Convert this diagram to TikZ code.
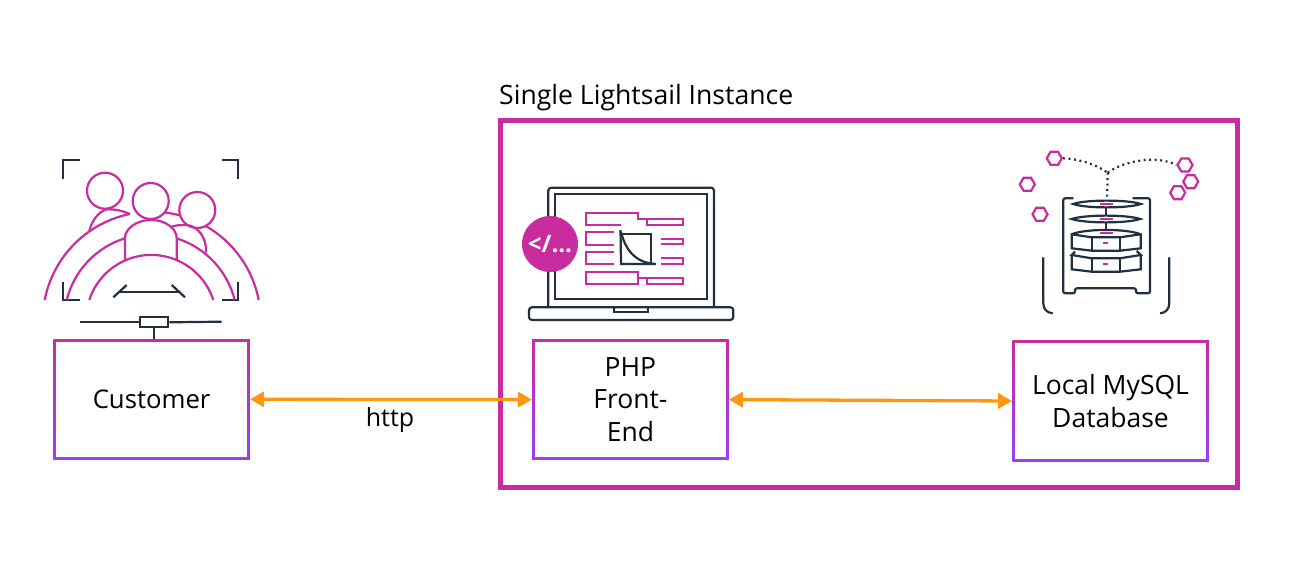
\documentclass[tikz,border=0pt]{standalone}
\usepackage{fontspec}
\setmainfont{Open Sans}
\usetikzlibrary{arrows.meta, shapes.geometric}
\definecolor{lsPink}{HTML}{C92C9E}
\definecolor{lsPurple}{HTML}{9B3FF5}
\definecolor{lsDark}{HTML}{232F3E}
\definecolor{lsOrange}{HTML}{FF9610}

\begin{document}
\begin{tikzpicture}
    [
        x=1pt, y=-1pt,
        gradbox/.style = {minimum width=196.5pt, minimum height=120.5pt, inner sep=0pt, align=center, font=\fontsize{26.5}{32.5}\selectfont,
            path picture={
                \shade[top color=lsPink, bottom color=lsPurple] (path picture bounding box.south west) rectangle (path picture bounding box.north east);
                \fill[white] ([xshift=2.7pt,yshift=-2.7pt]path picture bounding box.north west) rectangle ([xshift=-2.7pt,yshift=2.7pt]path picture bounding box.south east);
            }},
        twoway/.style = {draw=lsOrange, line width=3.3pt, {Triangle[length=14pt,width=15pt]}-{Triangle[length=14pt,width=15pt]}},
        pinkline/.style = {draw=lsPink, line width=2.2pt},
        darkline/.style = {draw=lsDark, line width=2.2pt},
        hexa/.style = {draw=lsPink, line width=2.2pt, shape=regular polygon, regular polygon sides=6, minimum size=15pt, inner sep=0pt},
        dotline/.style = {draw=lsDark, line width=2.2pt, dash pattern=on 2pt off 3.5pt},
    ]

    \useasboundingbox (0,0) rectangle (1292,569);

    % instance frame
    \node[draw=lsPink, line width=5pt, minimum width=737pt, minimum height=367pt, inner sep=0pt] (instance) at (869,304) {};
    \node[anchor=base west, inner sep=0pt, font=\fontsize{26.6}{30}\selectfont] (instancelabel) at (499,105) {Single Lightsail Instance};

    \node[gradbox, font=\fontsize{25.7}{32.5}\selectfont] (customer) at (151.6,399.3) {Customer};
    \node[gradbox] (php) at (630.4,399.6) {PHP\\Front-\\End};
    \node[gradbox] (mysql) at (1110.5,401) {Local MySQL\\Database};

    \draw[twoway] (customer.east) -- (php.west);
    \draw[twoway] (php.east) -- (mysql.west);
    \node[font=\fontsize{25}{30}\selectfont, inner sep=0pt] (httplabel) at (390,420) {http};

    % customer icon
    \draw[darkline] (63.3,179) -- (63.3,160) -- (80,160);
    \draw[darkline] (221.7,160) -- (238.3,160) -- (238.3,179);
    \draw[darkline] (63.3,281.7) -- (63.3,300) -- (80,300);
    \draw[darkline] (221.7,300) -- (238.3,300) -- (238.3,281.7);
    \draw[pinkline] (105,190.7) circle (18);
    \draw[pinkline] (150.7,201) circle (18);
    \draw[pinkline] (197.3,210) circle (18);
    \draw[pinkline] (44.7,300) arc[start angle=169, end angle=101.5, radius=109pt];
    \draw[pinkline] (165,212.5) arc[start angle=83, end angle=75, radius=109pt];
    \draw[pinkline] (205.7,226) arc[start angle=60.3, end angle=11, radius=109pt];
    \draw[pinkline] (66.7,300) arc[start angle=166, end angle=107.3, radius=86.6pt];
    \draw[pinkline] (176.4,238.3) arc[start angle=72.7, end angle=14, radius=86.6pt];
    \draw[pinkline] (89.3,300) arc[start angle=162, end angle=18, radius=65.2pt];
    \draw[pinkline] (125,260) -- (125,238) .. controls (125,229) and (136,220) .. (151,220) .. controls (166,220) and (176.7,229) .. (176.7,238) -- (176.7,260);
    \draw[pinkline] (89.3,230.7) .. controls (93,216) and (103,209.3) .. (108.3,209.3) .. controls (116,209.3) and (123,211) .. (130,214);
    \draw[pinkline] (170,227.3) .. controls (176,225) and (181,225) .. (186.7,225) .. controls (198,226) and (207,238) .. (206,252.7);
    \draw[darkline] (113.3,297.3) -- (126.7,285);
    \draw[darkline] (120,291.7) -- (178.3,291.7);
    \draw[darkline] (171.7,285) -- (185,297.3);
    \node[draw=lsDark, line width=2.2pt, minimum width=28pt, minimum height=10pt, inner sep=0pt] (desk) at (154.3,322.3) {};
    \coordinate (deskleft) at (80,322.3);
    \coordinate (deskright) at (221.7,321.7);
    \draw[darkline] (deskleft) -- (desk.west);
    \draw[darkline] (desk.east) -- (deskright);
    \draw[darkline] (desk.south) -- (desk.south |- customer.north);

    % laptop icon
    \draw[darkline, rounded corners=3pt] (548.3,306.7) -- (548.3,187.7) -- (714,187.7) -- (714,306.7);
    \draw[darkline] (555,194) rectangle (707.3,299.3);
    \draw[darkline, rounded corners=3pt] (529,307.3) rectangle (733.3,320);
    \draw[darkline] (614.3,307.3) -- (614.3,311.7) -- (647.7,311.7) -- (647.7,307.3);
    \draw[pinkline] (621,225) -- (586,225) -- (586,213.3) -- (638.3,213.3) -- (638.3,219.3) -- (683.3,219.3) -- (683.3,225) -- (647.3,225) -- (647.3,219.3);
    \draw[pinkline] (614,232.3) -- (586,232.3) -- (586,245) -- (614,245);
    \draw[pinkline] (660.7,239.3) -- (683.3,239.3) -- (683.3,244.3) -- (660.7,244.3);
    \draw[pinkline] (614,252.3) -- (586,252.3) -- (586,264.3) -- (614,264.3);
    \draw[pinkline] (660.7,258.3) -- (683.3,258.3) -- (683.3,264.3) -- (660.7,264.3);
    \draw[pinkline] (586,272.3) rectangle (638.3,283.7);
    \draw[pinkline] (638.3,278.3) -- (683.3,278.3) -- (683.3,284.3) -- (647.3,284.3) -- (647.3,278.3);
    \draw[darkline] (620.5,230) -- (621,264) -- (655.7,264);
    \draw[darkline] (621,234.3) -- (651,234.3) -- (651,264);
    \draw[darkline] (621,232) .. controls (626,252) and (637,263) .. (655.7,264);
    \node[circle, fill=lsPink, minimum size=56pt, inner sep=0pt, text=white, font=\fontsize{24}{26}\selectfont\bfseries] (codebadge) at (550,244) {</...};

    % database icon
    \foreach \hx/\hy [count=\i] in {1054.3/158.3, 1185/165, 1190.7/181.7, 1177.7/192.7, 1027.3/184.3, 1040/214.3}
        \node[hexa] (hex\i) at (\hx,\hy) {};
    \coordinate (joint) at (1107.7,172.7);
    \coordinate (jointdown) at (1107,200);
    \draw[dotline] (hex1.east) .. controls (1080,159) and (1097,165) .. (joint);
    \draw[dotline] (joint) .. controls (1122,162) and (1155,154) .. (hex2.west);
    \draw[dotline] (joint) -- (jointdown);
    \draw[darkline, rounded corners=2pt] (1073.3,198.3) -- (1063.3,198.3) -- (1063.3,293.3) -- (1075,293.3) -- (1075,288.3) -- (1136,288.3) -- (1136,293.3) -- (1150,293.3) -- (1150,198.3) -- (1132.7,198.3);
    \draw[darkline] (1073.3,204) .. controls (1085,199.5) and (1128,199.5) .. (1140.7,204) .. controls (1128,208.5) and (1085,208.5) .. cycle;
    \draw[darkline] (1071.7,219) .. controls (1085,214.5) and (1127,214.5) .. (1140,219) .. controls (1127,223.5) and (1085,223.5) .. cycle;
    \draw[darkline] (1106,208) -- (1106,215.7);
    \draw[darkline] (1106,222.3) -- (1106,230);
    \draw[darkline] (1071.7,234.3) .. controls (1085,228.5) and (1127,228.5) .. (1140.7,234.3) -- (1140.7,248.3) -- (1120,250.7) -- (1091.7,250.7) -- (1071.7,248.3) -- cycle;
    \draw[darkline] (1071.7,234.3) -- (1091.7,237.3) -- (1120,237.3) -- (1140.7,234.3);
    \draw[darkline] (1091.7,237.3) -- (1091.7,250.7);
    \draw[darkline] (1120,237.3) -- (1120,250.7);
    \draw[darkline] (1075,251.7) -- (1071.7,255) -- (1091.7,258.3) -- (1120,258.3) -- (1140.7,255) -- (1136.7,251);
    \draw[darkline] (1071.7,255) -- (1071.7,269.3) -- (1091.7,271.7) -- (1120,271.7) -- (1140.7,269.3) -- (1140.7,255);
    \draw[darkline] (1091.7,258.3) -- (1091.7,271.7);
    \draw[darkline] (1120,258.3) -- (1120,271.7);
    \draw[pinkline] (1100,204) -- (1113.3,204);
    \draw[pinkline] (1100,219) -- (1113.3,219);
    \draw[pinkline] (1100,232.7) -- (1113.3,232.7);
    \draw[pinkline] (1103.3,243.3) -- (1107.7,243.3);
    \draw[pinkline] (1103.3,264.3) -- (1107.7,264.3);
    \draw[darkline] (1043.3,257.3) -- (1043.3,303.3) .. controls (1043.3,309) and (1047,313) .. (1052.7,313.3);
    \draw[darkline] (1169.3,257.3) -- (1169.3,303.3) .. controls (1169.3,309) and (1165.5,313) .. (1160,313.3);

\end{tikzpicture}
\end{document}
